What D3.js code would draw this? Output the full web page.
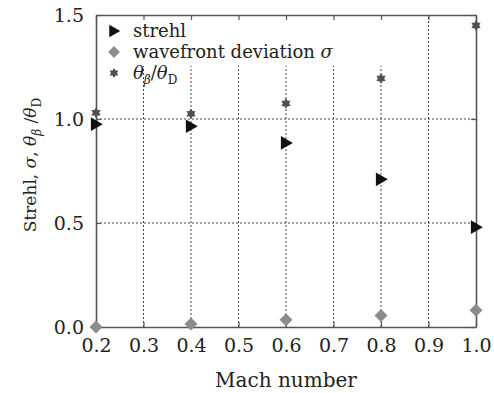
<!DOCTYPE html>
<html>
<head>
<meta charset="utf-8">
<script src="https://cdn.jsdelivr.net/npm/d3@7.9.0/dist/d3.min.js"></script>
<style>
  body { margin: 0; background: #fff; }
  svg text { font-family: 'DejaVu Serif', 'Liberation Serif', serif; }
</style>
</head>
<body>
<svg id="chart" width="494" height="393"></svg>
<script>
const mach = [0.2, 0.4, 0.6, 0.8, 1.0];
const strehl = [0.975, 0.965, 0.885, 0.71, 0.48];
const sigma = [0.0, 0.015, 0.035, 0.055, 0.08];
const thetaRatio = [1.03, 1.025, 1.075, 1.195, 1.45];
const xTicks = [0.2, 0.3, 0.4, 0.5, 0.6, 0.7, 0.8, 0.9, 1.0];
const yTicks = [0.0, 0.5, 1.0, 1.5];

const serif = "'DejaVu Serif', serif";
const svg = d3.select('#chart');
const margin = { top: 15, right: 18, bottom: 66, left: 96 };
const width = 494 - margin.left - margin.right;
const height = 393 - margin.top - margin.bottom;

const x = d3.scaleLinear().domain([0.2, 1.0]).range([margin.left, margin.left + width]);
const y = d3.scaleLinear().domain([0, 1.5]).range([margin.top + height, margin.top]);

// dotted grid
svg.append('g').selectAll('line').data(xTicks.slice(1, -1)).join('line')
  .attr('x1', d => x(d)).attr('x2', d => x(d))
  .attr('y1', y(0)).attr('y2', y(1.5))
  .attr('stroke', '#444').attr('stroke-width', 1).attr('stroke-dasharray', '2,2');
svg.append('g').selectAll('line').data(yTicks.slice(1, -1)).join('line')
  .attr('x1', x(0.2)).attr('x2', x(1.0))
  .attr('y1', d => y(d)).attr('y2', d => y(d))
  .attr('stroke', '#444').attr('stroke-width', 1).attr('stroke-dasharray', '2,2');

// legend backdrop hides the grid behind the first rows
svg.append('rect')
  .attr('x', x(0.2) + 1).attr('y', y(1.5) + 1)
  .attr('width', 285).attr('height', 50)
  .attr('fill', '#fff');

// axes
const tickSize = 5;
svg.append('g').attr('transform', `translate(0,${y(0)})`)
  .call(d3.axisBottom(x).tickValues(xTicks).tickFormat(d3.format('.1f')).tickSizeInner(-tickSize).tickSizeOuter(0).tickPadding(12));
svg.append('g').attr('transform', `translate(0,${y(1.5)})`)
  .call(d3.axisTop(x).tickValues(xTicks).tickFormat('').tickSizeInner(-tickSize).tickSizeOuter(0));
svg.append('g').attr('transform', `translate(${x(0.2)},0)`)
  .call(d3.axisLeft(y).tickValues(yTicks).tickFormat(d3.format('.1f')).tickSizeInner(-tickSize).tickSizeOuter(0).tickPadding(12));
svg.append('g').attr('transform', `translate(${x(1.0)},0)`)
  .call(d3.axisRight(y).tickValues(yTicks).tickFormat('').tickSizeInner(-tickSize).tickSizeOuter(0));

svg.selectAll('.domain').attr('stroke', '#555').attr('stroke-width', 1.6);
svg.selectAll('.tick line').attr('stroke', '#555').attr('stroke-width', 1.2);
svg.selectAll('.tick text').attr('font-size', 19).attr('fill', '#222')
  .attr('font-family', serif);

// markers
const star6 = {
  draw(ctx, size) {
    const r = Math.sqrt(size) * 0.75, ri = r * 0.6;
    for (let i = 0; i < 12; i++) {
      const a = Math.PI / 6 * i - Math.PI / 2;
      const rr = i % 2 ? ri : r;
      const px = rr * Math.cos(a), py = rr * Math.sin(a);
      if (i === 0) ctx.moveTo(px, py); else ctx.lineTo(px, py);
    }
    ctx.closePath();
  }
};
const triRight = {
  draw(ctx, size) {
    const s = Math.sqrt(size);
    ctx.moveTo(-s * 0.45, -s * 0.6);
    ctx.lineTo(s * 0.6, 0);
    ctx.lineTo(-s * 0.45, s * 0.6);
    ctx.closePath();
  }
};
const diamond = {
  draw(ctx, size) {
    const s = Math.sqrt(size) * 0.62;
    ctx.moveTo(0, -s); ctx.lineTo(s, 0); ctx.lineTo(0, s); ctx.lineTo(-s, 0); ctx.closePath();
  }
};

const series = [
  { values: thetaRatio, type: star6, size: 50, color: '#505050' },
  { values: sigma, type: diamond, size: 110, color: '#8c8c8c' },
  { values: strehl, type: triRight, size: 130, color: '#111' }
];
series.forEach(s => {
  svg.append('g').selectAll('path').data(mach).join('path')
    .attr('transform', (d, i) => `translate(${x(d)},${y(s.values[i])})`)
    .attr('d', d3.symbol().type(s.type).size(s.size))
    .attr('fill', s.color);
});

// legend
const lx = x(0.2) + 18, lt = x(0.2) + 37;
const rows = [
  { cy: 31, type: triRight, size: 110, color: '#111' },
  { cy: 52, type: diamond, size: 90, color: '#8c8c8c' },
  { cy: 73, type: star6, size: 45, color: '#505050' }
];
rows.forEach(r => {
  svg.append('path').attr('transform', `translate(${lx},${r.cy})`)
    .attr('d', d3.symbol().type(r.type).size(r.size)).attr('fill', r.color);
});
const lg = svg.append('g').attr('font-size', 18).attr('fill', '#222').attr('font-family', serif);
lg.append('text').attr('x', lt).attr('y', 37).text('strehl');
const t2 = lg.append('text').attr('x', lt).attr('y', 58);
t2.append('tspan').text('wavefront deviation ');
t2.append('tspan').attr('font-style', 'italic').text('σ');
const t3 = lg.append('text').attr('x', lt).attr('y', 79);
t3.append('tspan').attr('font-style', 'italic').text('θ');
t3.append('tspan').attr('font-style', 'italic').attr('font-size', 12).attr('dy', 5).text('β');
t3.append('tspan').attr('dy', -5).text('/');
t3.append('tspan').attr('font-style', 'italic').text('θ');
t3.append('tspan').attr('font-size', 12).attr('dy', 5).text('D');

// axis titles
svg.append('text').attr('x', x(0.6)).attr('y', 387)
  .attr('text-anchor', 'middle').attr('font-size', 20).attr('fill', '#222')
  .attr('font-family', serif)
  .text('Mach number');

const yt = svg.append('text')
  .attr('transform', `translate(36,165) rotate(-90)`)
  .attr('text-anchor', 'middle').attr('font-size', 17).attr('fill', '#222')
  .attr('font-family', serif);
yt.append('tspan').text('Strehl, ');
yt.append('tspan').attr('font-style', 'italic').text('σ');
yt.append('tspan').text(', ');
yt.append('tspan').attr('font-style', 'italic').text('θ');
yt.append('tspan').attr('font-style', 'italic').attr('font-size', 12).attr('dy', 5).text('β');
yt.append('tspan').attr('dy', -5).text(' /');
yt.append('tspan').attr('font-style', 'italic').text('θ');
yt.append('tspan').attr('font-size', 12).attr('dy', 5).text('D');
</script>
</body>
</html>
